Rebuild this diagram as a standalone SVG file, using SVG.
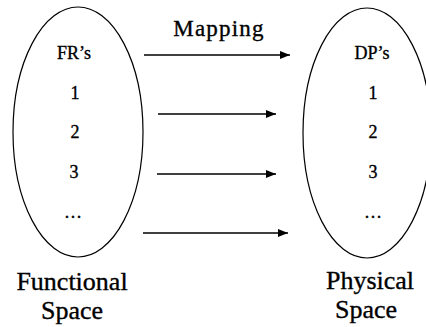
<svg xmlns="http://www.w3.org/2000/svg" width="426" height="327" viewBox="0 0 426 327">
  <style>
    .space { fill: none; stroke: #000; stroke-width: 1.2; }
    .link { stroke: #000; stroke-width: 1.3; fill: none; marker-end: url(#head); }
    .txt { font-family: 'Liberation Serif', 'Times New Roman', 'DejaVu Serif', serif; fill: #000; stroke: #000; stroke-width: 0.35; text-anchor: middle; }
    .item { font-size: 18px; }
    .title { font-size: 26px; }
    .label { font-size: 23px; letter-spacing: 1.2px; }
  </style>
  <defs>
    <marker id="head" viewBox="0 0 10 8" refX="10" refY="4" markerWidth="10" markerHeight="8" markerUnits="userSpaceOnUse" orient="auto">
      <path d="M0,0 L10,4 L0,8 Z" fill="#000"/>
    </marker>
  </defs>

  <!-- functional requirements domain -->
  <g id="functional" class="txt" font-family="Liberation Serif, serif">
    <ellipse class="space" cx="78" cy="132" rx="65" ry="125"/>
    <text class="item" x="74" y="59">FR’s</text>
    <text class="item" x="75" y="99">1</text>
    <text class="item" x="75" y="138">2</text>
    <text class="item" x="74" y="178">3</text>
    <text class="item" x="73" y="218">…</text>
    <text class="title" x="72" y="290">Functional</text>
    <text class="title" x="72" y="319">Space</text>
  </g>

  <!-- design parameters domain -->
  <g id="physical" class="txt" font-family="Liberation Serif, serif">
    <ellipse class="space" cx="367" cy="133" rx="64" ry="125"/>
    <text class="item" x="372" y="59">DP’s</text>
    <text class="item" x="373" y="99">1</text>
    <text class="item" x="373" y="138">2</text>
    <text class="item" x="373" y="178">3</text>
    <text class="item" x="373" y="218">…</text>
    <text class="title" x="370" y="289">Physical</text>
    <text class="title" x="366" y="318">Space</text>
  </g>

  <!-- mapping arrows -->
  <g id="connectors">
    <text class="txt label" x="219" y="36" font-family="Liberation Serif, serif">Mapping</text>
    <line class="link" x1="144" y1="55" x2="290" y2="55"/>
    <line class="link" x1="158" y1="114" x2="276" y2="114"/>
    <line class="link" x1="157" y1="174" x2="276" y2="174"/>
    <line class="link" x1="143" y1="233" x2="288" y2="233"/>
  </g>
</svg>
